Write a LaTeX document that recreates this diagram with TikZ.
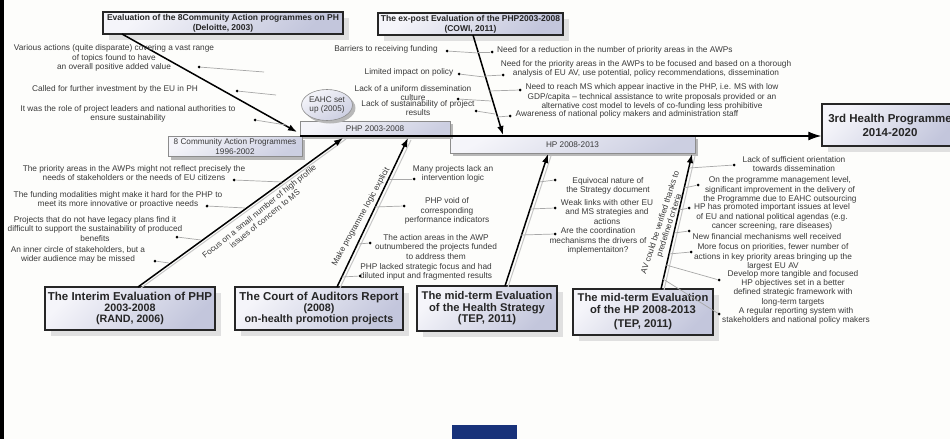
\documentclass[tikz,border=0pt]{standalone}
\usepackage{fontspec}
\setmainfont{Liberation Sans}
\usetikzlibrary{arrows.meta,shadows,shapes.geometric}
\definecolor{txtgray}{HTML}{3A3A3A}
\definecolor{boxlight}{HTML}{F5F5FA}
\definecolor{boxdark}{HTML}{C3C6DC}
\definecolor{navyblue}{HTML}{18327A}
\definecolor{bgcol}{HTML}{FDFDFB}
\definecolor{twiggray}{HTML}{A8A8A8}
\tikzset{
  evalbox/.style={draw=black!85, line width=1.4pt, top color=boxlight, bottom color=boxdark, shading angle=45,
     align=center, text=black!85, inner sep=0pt,
     drop shadow={shadow xshift=6pt, shadow yshift=-6pt, fill=black!12, opacity=1}},
  bigeval/.style={evalbox, font=\bfseries\fontsize{10.7}{11}\selectfont},
  topeval/.style={evalbox, line width=1.6pt, font=\bfseries\fontsize{8.5}{10}\selectfont},
  phasebox/.style={draw=black!45, line width=0.6pt, top color=boxlight, bottom color=boxdark!85, shading angle=30,
     align=center, text=txtgray, inner sep=0pt, font=\fontsize{8.2}{9.2}\selectfont,
     drop shadow={shadow xshift=3pt, shadow yshift=-3pt, fill=black!28, opacity=1}},
  itemtext/.style={align=center, text=txtgray, inner sep=0pt, font=\fontsize{8.3}{9.4}\selectfont},
  bulletdot/.style={circle, fill=black, inner sep=0pt, minimum size=3pt},
  twig/.style={draw=twiggray, line width=0.7pt},
  bone/.style={draw=black, line width=1.5pt, -{Latex[length=9pt,width=6.5pt]}},
  boneshade/.style={draw=black!22, line width=1pt},
  bonelabel/.style={align=center, text=txtgray, inner sep=0pt, font=\fontsize{8.2}{9.2}\selectfont},
}
\begin{document}
\begin{tikzpicture}[x=1pt,y=-1pt]
\fill[bgcol] (0,0) rectangle (950,439);
\useasboundingbox (0,0) rectangle (950,439);
\fill[black] (0,0) rectangle (3.5,439);
\fill[navyblue] (452,425) rectangle (517,439);

% phase boxes on the spine
\node[phasebox, minimum width=134pt, minimum height=20pt] (cap8) at (235,146.5) {8 Community Action Programmes\\1996-2002};
\node[phasebox, minimum width=245pt, minimum height=17pt] (hp) at (572.5,144.5) {HP 2008-2013};
\node[phasebox, minimum width=150pt, minimum height=15pt] (php) at (375,128.5) {PHP 2003-2008};
\node[phasebox, ellipse, minimum width=48pt, minimum height=31pt, inner sep=0pt] (eahc) at (327,105) {EAHC set\\up (2005)};

% head
\node[evalbox, font=\bfseries\fontsize{11.5}{14}\selectfont, minimum width=136pt, minimum height=42pt] (third) at (890,125) {3rd Health Programme\\2014-2020};

% spine
\coordinate (sp0) at (300,136);
\draw[line width=1.3pt, -{Latex[length=13pt,width=9pt]}] (sp0) -- (sp0 -| third.west);

% evaluation boxes
\node[topeval, minimum width=240pt, minimum height=22pt] (top1) at (223,23) {Evaluation of the 8Community Action programmes on PH\\(Deloitte, 2003)};
\node[topeval, minimum width=185pt, minimum height=22pt] (top2) at (470.5,24) {The ex-post Evaluation of the PHP2003-2008\\(COWI, 2011)};
\node[bigeval, minimum width=170pt, minimum height=43pt] (interim) at (130,308.5) {{\fontsize{11.5}{11}\selectfont The Interim Evaluation of PHP}\\2003-2008\\(RAND, 2006)};
\node[bigeval, minimum width=168pt, minimum height=43pt] (court) at (319,308.5) {{\fontsize{11.5}{11}\selectfont The Court of Auditors Report}\\(2008)\\on-health promotion projects};
\node[bigeval, font=\bfseries\fontsize{11.2}{11.5}\selectfont, minimum width=140pt, minimum height=45pt] (midhs) at (487,308.5) {The mid-term Evaluation\\of the Health Strategy\\(TEP, 2011)};
\node[bigeval, font=\bfseries\fontsize{11.2}{11.5}\selectfont, minimum width=140pt, minimum height=46pt] (midhp) at (643,312) {The mid-term Evaluation\\of the HP 2008-2013\\[3pt](TEP, 2011)};

% bones
\coordinate (b1s) at (122,34);  \coordinate (b1e) at (297,132);
\coordinate (b2s) at (473,35);  \coordinate (b2e) at (503,135);
\coordinate (b3s) at (138,287); \coordinate (b3e) at (343,138);
\coordinate (b4s) at (337,287); \coordinate (b4e) at (408,138);
\coordinate (b5s) at (505,286); \coordinate (b5e) at (548,154);
\coordinate (b6s) at (661,289); \coordinate (b6e) at (692,154);
\coordinate (b3sh) at (141,288); \coordinate (b3eh) at (346,139);
\coordinate (b4sh) at (340,288); \coordinate (b4eh) at (411,140);
\coordinate (b5sh) at (508,287); \coordinate (b5eh) at (551,156);
\coordinate (b6sh) at (664,290); \coordinate (b6eh) at (695,156);
\draw[boneshade] (b3sh) -- (b3eh);
\draw[boneshade] (b4sh) -- (b4eh);
\draw[boneshade] (b5sh) -- (b5eh);
\draw[boneshade] (b6sh) -- (b6eh);
\draw[bone] (b1s) -- (b1e);
\draw[bone] (b2s) -- (b2e);
\draw[bone] (b3s) -- (b3e);
\draw[bone] (b4s) -- (b4e);
\draw[bone] (b5s) -- (b5e);
\draw[bone] (b6s) -- (b6e);

% bone labels
\node[bonelabel, rotate=39] (lab3) at (262,215) {Focus on a small number of high profile\\issues of concern to MS};
\node[bonelabel, rotate=61] (lab4) at (361,217) {Make programme logic explicit};
\node[bonelabel, rotate=72] (lab6) at (665,224) {AV could be verified thanks to\\predefined criteria};

% ---- items: Deloitte
\node[itemtext] (t1) at (114,58) {Various actions (quite disparate) covering a vast range\\of topics found to have\\an overall positive added value};
\node[itemtext] (t2) at (115,89) {Called for further investment by the EU in PH};
\node[itemtext] (t3) at (128,114) {It was the role of project leaders and national authorities to\\ensure sustainability};
\node[bulletdot] (d1) at (199,67) {};
\node[bulletdot] (d2) at (237,91) {};
\node[bulletdot] (d3) at (255,120) {};
\coordinate (e1) at (264,72); \coordinate (e2) at (276,95); \coordinate (e3) at (286,125);
\draw[twig] (d1) -- (e1); \draw[twig] (d2) -- (e2); \draw[twig] (d3) -- (e3);

% ---- items: COWI left
\node[itemtext] (t4) at (386,49) {Barriers to receiving funding};
\node[itemtext] (t5) at (409,72) {Limited impact on policy};
\node[itemtext] (t6) at (413,93) {Lack of a uniform dissemination\\culture};
\node[itemtext] (t7) at (418,108) {Lack of sustainability of project\\results};
\node[bulletdot] (d4) at (447,51) {};
\node[bulletdot] (d5) at (459,74) {};
\node[bulletdot] (d6) at (458,99) {};
\node[bulletdot] (d7) at (476,111) {};
\coordinate (e4) at (478,53); \coordinate (e5) at (484,77); \coordinate (e6) at (491,101); \coordinate (e7) at (495,114);
\draw[twig] (d4) -- (e4); \draw[twig] (d5) -- (e5); \draw[twig] (d6) -- (e6); \draw[twig] (d7) -- (e7);

% ---- items: COWI right
\node[itemtext, anchor=west] (t8) at (497,50) {Need for a reduction in the number of priority areas in the AWPs};
\node[itemtext] (t9) at (646,69) {Need for the priority areas in the AWPs to be focused and based on a thorough\\analysis of EU AV, use potential, policy recommendations, dissemination};
\node[itemtext] (t10) at (652,97) {Need to reach MS which appear inactive in the PHP, i.e. MS with low\\GDP/capita -- technical assistance to write proposals provided or an\\alternative cost model to levels of co-funding less prohibitive};
\node[itemtext] (t11) at (627,114) {Awareness of national policy makers and administration staff};
\node[bulletdot] (d8) at (492,52) {};
\node[bulletdot] (d9) at (503,75) {};
\node[bulletdot] (d10) at (520,90) {};
\node[bulletdot] (d11) at (510,116) {};
\coordinate (e8) at (478,52); \coordinate (e9) at (485,76); \coordinate (e10) at (489,91); \coordinate (e11) at (497,117);
\draw[twig] (d8) -- (e8); \draw[twig] (d9) -- (e9); \draw[twig] (d10) -- (e10); \draw[twig] (d11) -- (e11);

% ---- items: RAND
\node[itemtext] (t12) at (134,173) {The priority areas in the AWPs might not reflect precisely the\\needs of stakeholders or the needs of EU citizens};
\node[itemtext] (t13) at (118,200) {The funding modalities might make it hard for the PHP to\\meet its more innovative or proactive needs};
\node[itemtext] (t14) at (95,229) {Projects that do not have legacy plans find it\\difficult to support the sustainability of produced\\benefits};
\node[itemtext] (t15) at (78,255) {An inner circle of stakeholders, but a\\wider audience may be missed};
\node[bulletdot] (d12) at (234,180) {};
\node[bulletdot] (d13) at (207,206) {};
\node[bulletdot] (d14) at (177,237) {};
\node[bulletdot] (d15) at (155,261) {};
\coordinate (e12) at (282,182); \coordinate (e13) at (245,208); \coordinate (e14) at (201,240); \coordinate (e15) at (169,263);
\draw[twig] (d12) -- (e12); \draw[twig] (d13) -- (e13); \draw[twig] (d14) -- (e14); \draw[twig] (d15) -- (e15);

% ---- items: Court of Auditors
\node[itemtext] (t16) at (453,174) {Many projects lack an\\intervention logic};
\node[itemtext] (t17) at (447,211) {PHP void of\\corresponding\\performance indicators};
\node[itemtext] (t18) at (436,247) {The action areas in the AWP\\outnumbered the projects funded\\to address them};
\node[itemtext] (t19) at (426,272) {PHP lacked strategic focus and had\\diluted input and fragmented results};
\node[bulletdot] (d16) at (414,179) {};
\node[bulletdot] (d17) at (404,206) {};
\node[bulletdot] (d18) at (370,243) {};
\node[bulletdot] (d19) at (360,276) {};
\coordinate (e16) at (389,179); \coordinate (e17) at (375,207); \coordinate (e18) at (358,244); \coordinate (e19) at (342,277);
\draw[twig] (d16) -- (e16); \draw[twig] (d17) -- (e17); \draw[twig] (d18) -- (e18); \draw[twig] (d19) -- (e19);

% ---- items: Health Strategy
\node[itemtext] (t20) at (608,186) {Equivocal nature of\\the Strategy document};
\node[itemtext] (t21) at (607,212) {Weak links with other EU\\and MS strategies and\\actions};
\node[itemtext] (t22) at (598,241) {Are the coordination\\mechanisms the drivers of\\implementaiton?};
\node[bulletdot] (d20) at (555,180) {};
\node[bulletdot] (d21) at (555,208) {};
\node[bulletdot] (d22) at (555,234) {};
\coordinate (e20) at (539,182); \coordinate (e21) at (530,209); \coordinate (e22) at (521,235);
\draw[twig] (d20) -- (e20); \draw[twig] (d21) -- (e21); \draw[twig] (d22) -- (e22);

% ---- items: HP mid-term
\node[itemtext] (t23) at (794,164) {Lack of sufficient orientation\\towards dissemination};
\node[itemtext] (t24) at (780,190) {On the programme management level,\\significant improvement in the delivery of\\the Programme due to EAHC outsourcing};
\node[itemtext] (t25) at (772,217) {HP has promoted important issues at level\\of EU and national political agendas (e.g.\\cancer screening, rare diseases)};
\node[itemtext] (t26) at (767,237) {New financial mechanisms well received};
\node[itemtext] (t27) at (773,257) {More focus on priorities, fewer number of\\actions in key priority areas bringing up the\\largest EU AV};
\node[itemtext] (t28) at (793,288) {Develop more tangible and focused\\HP objectives set in a better\\defined strategic framework with\\long-term targets};
\node[itemtext] (t29) at (796,316) {A regular reporting system with\\stakeholders and national policy makers};
\node[bulletdot] (d23) at (734,165) {};
\node[bulletdot] (d24) at (698,185) {};
\node[bulletdot] (d25) at (689,208) {};
\node[bulletdot] (d26) at (689,231) {};
\node[bulletdot] (d27) at (691,252) {};
\node[bulletdot] (d28) at (719,280) {};
\node[bulletdot] (d29) at (719,314) {};
\coordinate (e23) at (689,168); \coordinate (e24) at (684,188); \coordinate (e25) at (679,210);
\coordinate (e26) at (674,233); \coordinate (e27) at (669,254); \coordinate (e28) at (666,265); \coordinate (e29) at (663,279);
\draw[twig] (d23) -- (e23); \draw[twig] (d24) -- (e24); \draw[twig] (d25) -- (e25); \draw[twig] (d26) -- (e26);
\draw[twig] (d27) -- (e27); \draw[twig] (d28) -- (e28); \draw[twig] (d29) -- (e29);
\end{tikzpicture}
\end{document}
